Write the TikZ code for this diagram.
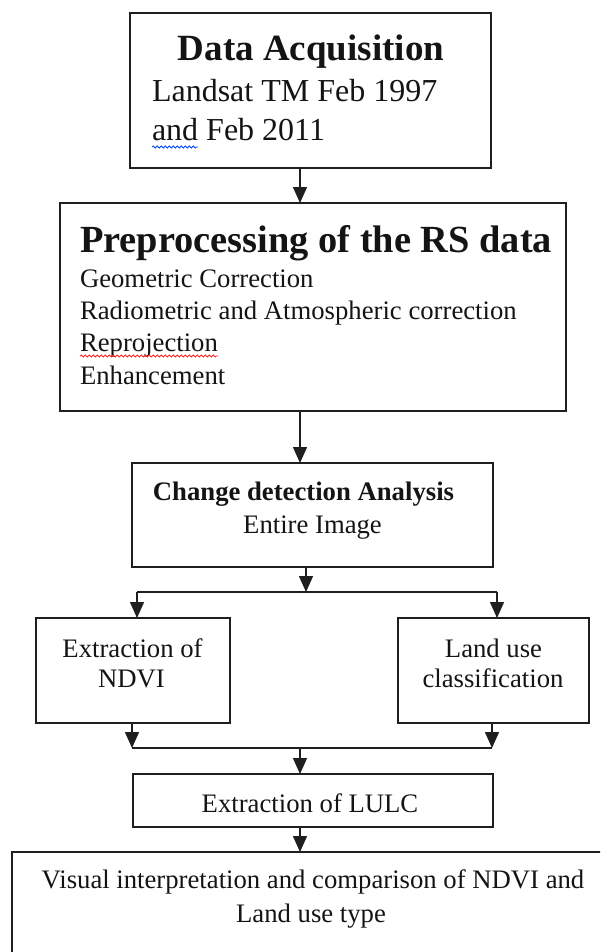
\documentclass[tikz,border=0pt]{standalone}
\usepackage{fontspec}
\setmainfont{Liberation Serif}
\usetikzlibrary{arrows.meta,decorations.pathmorphing}
\begin{document}
\begin{tikzpicture}[x=1pt,y=-1pt,
  box/.style={draw=black!88,line width=1.8pt,rectangle,inner sep=0pt,outer sep=0pt},
  arr/.style={draw=black!88,line width=1.4pt,-{Triangle[width=14pt,length=16pt]}},
  ln/.style={draw=black!88,line width=1.4pt},
  txt/.style={inner sep=0pt,outer sep=0pt,text=black!92},
  bigtitle/.style={txt,font=\fontsize{37}{44}\selectfont\bfseries},
  bodybig/.style={txt,font=\fontsize{32}{38}\selectfont},
  body/.style={txt,font=\fontsize{26.7}{32}\selectfont},
  bodyb/.style={txt,font=\fontsize{26.7}{32}\selectfont\bfseries},
  squig/.style={line width=0.8pt,decorate,decoration={snake,amplitude=1pt,segment length=4pt}}]

\useasboundingbox (0,0) rectangle (600,952);
\clip (0,0) rectangle (600,952);

% boxes
\node[box,minimum width=361pt,minimum height=155pt] (b1) at (310.5,90.5) {};
\node[box,minimum width=506pt,minimum height=208pt] (b2) at (313,307) {};
\node[box,minimum width=361pt,minimum height=104pt] (b3) at (312.5,515) {};
\node[box,minimum width=194pt,minimum height=105pt] (b4) at (133,670.5) {};
\node[box,minimum width=191pt,minimum height=105pt] (b5) at (493.5,670.5) {};
\node[box,minimum width=360pt,minimum height=53pt] (b6) at (313,800.5) {};
\node[box,minimum width=608pt,minimum height=140pt] (b7) at (316,922) {};

% texts
\node[bigtitle,anchor=base] (t1) at (311,61) {Data Acquisition};
\node[bodybig,anchor=base west] (t1a) at (152,102) {Landsat TM Feb 1997};
\node[bodybig,anchor=base west] (t1b) at (152,141) {and Feb 2011};

\node[txt,font=\fontsize{38.4}{44}\selectfont\bfseries,anchor=base west] (t2) at (80,252) {Preprocessing of the RS data};
\node[body,anchor=base west] (t2a) at (80,287) {Geometric Correction};
\node[body,anchor=base west] (t2b) at (80,319) {Radiometric and Atmospheric correction};
\node[body,anchor=base west] (t2c) at (80,351) {Reprojection};
\node[body,anchor=base west] (t2d) at (80,384) {Enhancement};

\node[bodyb,anchor=base] (t3) at (303.5,500) {Change detection Analysis};
\node[body,anchor=base] (t3a) at (312.5,533) {Entire Image};

\node[body,anchor=base] (t4) at (132.5,657) {Extraction of};
\node[body,anchor=base] (t4a) at (131.5,687) {NDVI};

\node[body,anchor=base] (t5) at (493.5,657) {Land use};
\node[body,anchor=base] (t5a) at (493,687) {classification};

\node[body,anchor=base] (t6) at (310,812) {Extraction of LULC};

\node[body,anchor=base] (t7) at (313,888) {Visual interpretation and comparison of NDVI and};
\node[body,anchor=base] (t7a) at (311,922) {Land use type};

% proofing squiggles
\draw[squig,draw=blue!75!cyan] (152,147) -- (198,147);
\draw[squig,draw=red!85] (80,356) -- (218,356);

% helper coordinates
\coordinate (sp) at (300,0);
\coordinate (s3) at (306,0);
\coordinate (lx) at (137,592);
\coordinate (rx) at (497,592);
\coordinate (ly) at (132,748);
\coordinate (ry) at (492,748);

% connectors
\draw[arr] (b1.south -| sp) -- (b2.north -| sp);
\draw[arr] (b2.south -| sp) -- (b3.north -| sp);
\draw[arr] (b3.south -| s3) -- (s3 |- lx);
\draw[ln] (lx) -- (rx);
\draw[arr] (lx) -- (b4.north -| lx);
\draw[arr] (rx) -- (b5.north -| rx);
\draw[arr] (b4.south -| ly) -- (ly);
\draw[arr] (b5.south -| ry) -- (ry);
\draw[ln] (ly) -- (ry);
\draw[arr] (ly -| sp) -- (b6.north -| sp);
\draw[arr] (b6.south -| sp) -- (b7.north -| sp);
\end{tikzpicture}
\end{document}
